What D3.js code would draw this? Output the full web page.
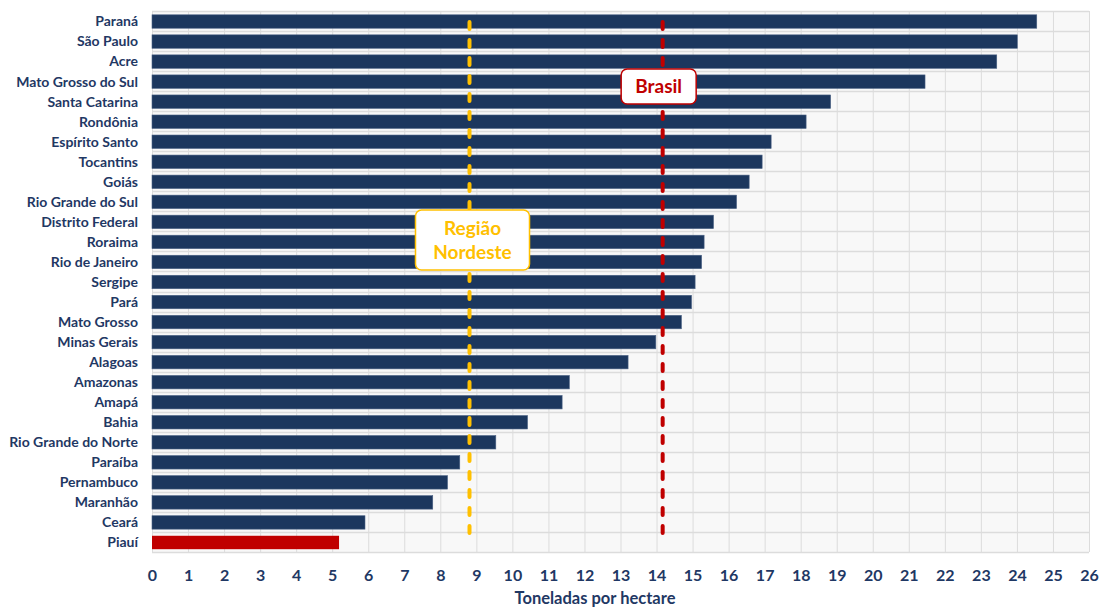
<!DOCTYPE html>
<html><head><meta charset="utf-8">
<script src="https://cdn.jsdelivr.net/npm/d3@7"></script>
<style>body{margin:0;background:#fff}svg{display:block}</style>
</head><body>
<svg id="c" width="1104" height="610"></svg>
<script>
const states = ["Paraná","São Paulo","Acre","Mato Grosso do Sul","Santa Catarina","Rondônia","Espírito Santo","Tocantins","Goiás","Rio Grande do Sul","Distrito Federal","Roraima","Rio de Janeiro","Sergipe","Pará","Mato Grosso","Minas Gerais","Alagoas","Amazonas","Amapá","Bahia","Rio Grande do Norte","Paraíba","Pernambuco","Maranhão","Ceará","Piauí"];
const yields = [24.55,24.01,23.44,21.45,18.83,18.15,17.18,16.93,16.57,16.22,15.58,15.32,15.25,15.07,14.97,14.69,13.98,13.21,11.58,11.38,10.42,9.54,8.54,8.20,7.79,5.91,5.19];
const highlight = ["Piauí"];
const refNames = ["Brasil","Região Nordeste"];
const refValues = [14.17,8.81];
const xTicks = d3.range(0,27);
const axisTitle = "Toneladas por hectare";

const svg = d3.select("#c");
const L=152, R=1089, T=11, B=552;
const x = d3.scaleLinear().domain([0,26]).range([L,R]);
const y = d3.scaleBand().domain(states).range([T,B]).paddingInner(0.33).paddingOuter(0.165);
const navy="#1c375e", textCol="#1f3864";

svg.append("rect").attr("x",L).attr("y",T).attr("width",R-L).attr("height",B-T).attr("fill","#f8f8f8");
svg.append("g").selectAll("line").data(xTicks).join("line")
  .attr("x1",d=>x(d)+0.5).attr("x2",d=>x(d)+0.5).attr("y1",T).attr("y2",B)
  .attr("stroke","#dcdcdc").attr("stroke-width",1);
const step=y.step();
const hb = d3.range(0,states.length+1).map(i=>T+i*step);
svg.append("g").selectAll("line").data(hb).join("line")
  .attr("x1",L).attr("x2",R).attr("y1",d=>Math.round(d)+0.5).attr("y2",d=>Math.round(d)+0.5)
  .attr("stroke","#dcdcdc").attr("stroke-width",1.5);

svg.append("g").selectAll("rect").data(states).join("rect")
  .attr("x",x(0)).attr("y",d=>y(d)+0.5).attr("height",y.bandwidth())
  .attr("width",(d,i)=>x(yields[i])-x(0))
  .attr("fill",d=>highlight.includes(d)?"#c00000":navy)
  .attr("stroke",d=>highlight.includes(d)?"none":"#4a6184").attr("stroke-width",0.6);

svg.append("g").selectAll("text").data(states).join("text")
  .attr("x",138).attr("y",d=>y(d)+y.bandwidth()/2+0.5).attr("dy","0.35em")
  .attr("text-anchor","end").attr("font-family","Lato, sans-serif").attr("font-weight","bold")
  .attr("font-size",14).attr("fill",textCol).text(d=>d);

const xa = svg.append("g").attr("transform",`translate(0,${B})`)
  .call(d3.axisBottom(x).tickValues(xTicks).tickSize(0).tickPadding(18).tickFormat(d3.format("d")));
xa.select(".domain").remove();
xa.selectAll("text").attr("font-family","Lato, sans-serif").attr("font-weight","bold")
  .attr("font-size",16).attr("fill",textCol);
svg.append("text").attr("x",595).attr("y",604).attr("text-anchor","middle")
  .attr("font-family","Lato, sans-serif").attr("font-weight","bold").attr("font-size",16.5)
  .attr("fill",textCol).text(axisTitle);

const refColors=["#c00000","#ffc000"];
svg.append("g").selectAll("line").data(refValues).join("line")
  .attr("x1",d=>x(d)).attr("x2",d=>x(d)).attr("y1",22).attr("y2",543)
  .attr("stroke",(d,i)=>refColors[i]).attr("stroke-width",4)
  .attr("stroke-linecap","round").attr("stroke-dasharray","7 11");

function box(cx,y0,w,h,col,lines){
  const g=svg.append("g");
  g.append("rect").attr("x",cx-w/2).attr("y",y0).attr("width",w).attr("height",h)
   .attr("rx",6).attr("fill","#fff").attr("stroke",col).attr("stroke-width",1.5);
  lines.forEach((t,i)=>g.append("text").attr("x",cx).attr("y",y0+h/2+(i-(lines.length-1)/2)*24)
    .attr("dy","0.35em").attr("text-anchor","middle").attr("font-family","Lato, sans-serif")
    .attr("font-weight","bold").attr("font-size",19).attr("fill",col).text(t));
}
box(x(refValues[0])-4,69,75,35,refColors[0],[refNames[0]]);
box(472.5,210,114,60,refColors[1],refNames[1].split(" "));
</script>
</body></html>
